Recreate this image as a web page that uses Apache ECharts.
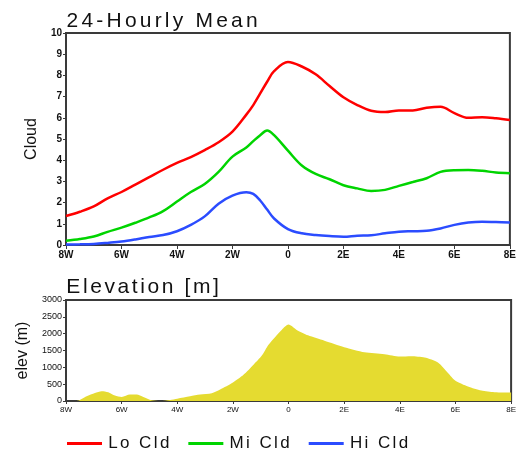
<!DOCTYPE html>
<html><head><meta charset="utf-8">
<script src="https://cdn.jsdelivr.net/npm/echarts@6/dist/echarts.min.js"></script>
<style>html,body{margin:0;padding:0;background:#fff}#c{width:519px;height:450px}</style>
</head><body><div id="c"></div>
<script>
// ---- data ----
const lonDeg = [-8,-7.5,-7,-6.5,-6,-5.5,-5,-4.5,-4,-3.5,-3,-2.5,-2,-1.5,-1.25,-1,-0.75,-0.5,0,0.5,1,1.5,2,2.5,3,3.5,4,4.5,5,5.5,6,6.5,7,7.5,8];
const loCld = [1.37,1.57,1.82,2.2,2.5,2.85,3.2,3.55,3.87,4.15,4.48,4.85,5.35,6.15,6.6,7.15,7.7,8.2,8.63,8.42,8.05,7.5,6.97,6.6,6.33,6.27,6.35,6.35,6.47,6.52,6.22,6.0,6.03,5.98,5.9];
const miCld = [0.2,0.28,0.4,0.62,0.82,1.05,1.3,1.6,2.05,2.5,2.88,3.45,4.17,4.6,4.9,5.18,5.4,5.18,4.45,3.75,3.35,3.1,2.82,2.67,2.55,2.6,2.79,2.97,3.15,3.45,3.53,3.54,3.5,3.42,3.39];
const hiCld = [0.02,0.03,0.05,0.1,0.16,0.26,0.38,0.47,0.65,0.95,1.35,1.95,2.33,2.49,2.41,2.1,1.67,1.25,0.75,0.55,0.47,0.42,0.39,0.44,0.46,0.55,0.63,0.65,0.67,0.78,0.95,1.06,1.1,1.08,1.06];
const elevLon = [-8,-7.62,-7.26,-6.96,-6.72,-6.48,-6.24,-6,-5.7,-5.46,-5.22,-4.92,-4.62,-4.26,-4,-3.54,-3.18,-2.76,-2.46,-2,-1.62,-1.26,-0.96,-0.72,-0.24,0,0.28,0.7,1.29,2,2.73,3.45,4,4.41,4.89,5.37,5.73,6,6.45,6.93,7.4,8];
const elev = [0,0,140,240,290,260,160,120,190,190,120,20,0,30,70,140,190,230,340,550,780,1080,1350,1670,2120,2270,2120,1950,1790,1600,1450,1390,1320,1330,1290,1140,830,600,430,310,260,250];
const xTicks = [-8,-6,-4,-2,0,2,4,6,8];
const xTickLabels = ['8W','6W','4W','2W','0','2E','4E','6E','8E'];
const seriesNames = ['Lo Cld','Mi Cld','Hi Cld'];
const titles = ['24-Hourly Mean','Elevation [m]'];
// ---- chart ----
const colors = ['#ff0000','#00d400','#2b4cff'];
const frame = '#3a3a3a';
function spaced(s){return s.split('').map(c=>'{s|'+c+'}').join('');}
function pairs(xs, ys){return xs.map((x,i)=>[x, ys[i]]);}
const xLab = v => { const i = xTicks.indexOf(v); return i>=0 ? xTickLabels[i] : ''; };
const font = 'Liberation Sans';
const chart = echarts.init(document.getElementById('c'), null, {renderer:'canvas'});
chart.setOption({
  animation:false,
  title:[
    {text:spaced(titles[0]), left:65, top:11, padding:0,
     textStyle:{fontFamily:font, fontSize:21, fontWeight:'normal', color:'#111',
       rich:{s:{fontFamily:font, fontSize:21, color:'#111', padding:[0,1.6,0,1.6]}}}},
    {text:spaced(titles[1]), left:65, top:277, padding:0,
     textStyle:{fontFamily:font, fontSize:21, fontWeight:'normal', color:'#111',
       rich:{s:{fontFamily:font, fontSize:21, color:'#111', padding:[0,1.3,0,1.3]}}}}
  ],
  legend:{left:62, top:430, itemWidth:35, itemHeight:3, itemGap:19, icon:'rect',
    data:seriesNames,
    formatter: n => spaced(n),
    textStyle:{fontFamily:font, fontSize:17, color:'#111',
      rich:{s:{fontFamily:font, fontSize:17, color:'#111', padding:[0,1.2,0,1.2]}}}},
  grid:[
    {left:66, right:7, top:33, height:212, show:true, borderColor:frame, borderWidth:2, backgroundColor:'transparent'},
    {left:66, right:7, top:300, height:101, show:true, borderColor:frame, borderWidth:2, backgroundColor:'transparent'}
  ],
  xAxis:[
    {gridIndex:0, type:'value', min:-8, max:8, interval:2,
     axisLine:{show:true, onZero:false, lineStyle:{color:frame, width:2}},
     axisTick:{show:true, length:4, lineStyle:{color:frame}},
     splitLine:{show:false},
     axisLabel:{formatter:xLab, fontFamily:font, fontSize:10, fontWeight:'bold', color:'#111', margin:5}},
    {gridIndex:1, type:'value', min:-8, max:8, interval:2,
     axisLine:{show:true, onZero:false, lineStyle:{color:frame, width:2}},
     axisTick:{show:true, length:3, lineStyle:{color:frame}},
     splitLine:{show:false},
     axisLabel:{formatter:xLab, fontFamily:font, fontSize:8, color:'#111', margin:5}}
  ],
  yAxis:[
    {gridIndex:0, type:'value', min:0, max:10, interval:1,
     name:'Cloud', nameLocation:'middle', nameGap:25, nameRotate:90,
     nameTextStyle:{fontFamily:font, fontSize:16, color:'#111'},
     axisLine:{show:true, onZero:false, lineStyle:{color:frame, width:2}},
     axisTick:{show:true, length:3, lineStyle:{color:frame}},
     splitLine:{show:false},
     axisLabel:{fontFamily:font, fontSize:10, fontWeight:'bold', color:'#111', margin:4}},
    {gridIndex:1, type:'value', min:0, max:3000, interval:500,
     name:'elev (m)', nameLocation:'middle', nameGap:27, nameRotate:90,
     nameTextStyle:{fontFamily:font, fontSize:16, color:'#111'},
     axisLine:{show:true, onZero:false, lineStyle:{color:frame, width:2}},
     axisTick:{show:true, length:3, lineStyle:{color:frame}},
     splitLine:{show:false},
     axisLabel:{formatter: v => String(v), fontFamily:font, fontSize:9, color:'#111', margin:4}}
  ],
  series:[
    {name:seriesNames[0], type:'line', xAxisIndex:0, yAxisIndex:0, data:pairs(lonDeg, loCld), smooth:0.35, showSymbol:false, symbol:'none', lineStyle:{color:colors[0], width:2.5}, itemStyle:{color:colors[0]}},
    {name:seriesNames[1], type:'line', xAxisIndex:0, yAxisIndex:0, data:pairs(lonDeg, miCld), smooth:0.35, showSymbol:false, symbol:'none', lineStyle:{color:colors[1], width:2.5}, itemStyle:{color:colors[1]}},
    {name:seriesNames[2], type:'line', xAxisIndex:0, yAxisIndex:0, data:pairs(lonDeg, hiCld), smooth:0.35, showSymbol:false, symbol:'none', lineStyle:{color:colors[2], width:2.5}, itemStyle:{color:colors[2]}},
    {name:'elev', type:'line', xAxisIndex:1, yAxisIndex:1, data:pairs(elevLon, elev), smooth:0.25, showSymbol:false, symbol:'none', lineStyle:{width:0, color:'#e5db30'}, areaStyle:{color:'#e5db30', opacity:1}, z:1}
  ]
});
</script></body></html>
